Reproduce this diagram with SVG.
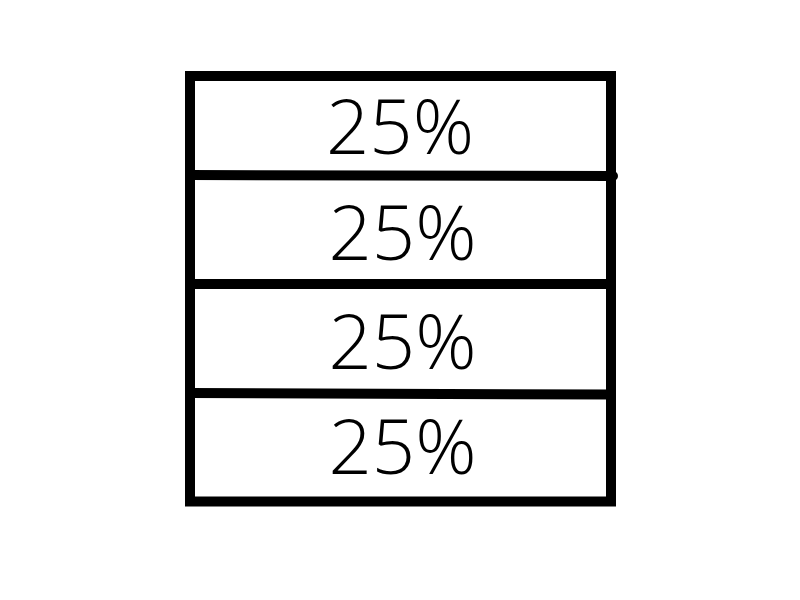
<svg xmlns="http://www.w3.org/2000/svg" width="800" height="600" viewBox="0 0 800 600">
<style>
.frame{fill:none;stroke:#000;stroke-width:10}
.div{stroke:#000;stroke-width:10;stroke-linecap:round;fill:none}
.lbl{font-family:"Open Sans","Noto Sans",sans-serif;font-size:76px;font-weight:360;fill:#000;text-anchor:middle}
</style>
<rect width="800" height="600" fill="#fff"/>
<g id="cell1"><text class="lbl" x="400" y="154">25%</text></g>
<g id="cell2"><text class="lbl" x="402.5" y="260">25%</text></g>
<g id="cell3"><text class="lbl" x="402.5" y="369">25%</text></g>
<g id="cell4"><text class="lbl" x="402.5" y="474">25%</text></g>
<g id="connectors">
<rect class="frame" x="190" y="76" width="421" height="425.5"/>
<path class="div" d="M190 175 L613 176"/>
<path class="div" d="M190 284 L611 284"/>
<path class="div" d="M190 393 L611 394.5"/>
</g>
</svg>
